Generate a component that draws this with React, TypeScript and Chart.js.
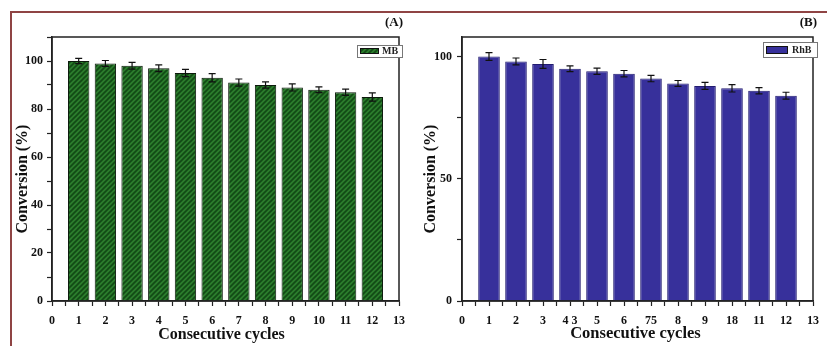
import React, { useEffect, useRef } from 'react';
import { Chart, registerables } from 'chart.js';

Chart.register(...registerables);

// ---------- data ----------
const cycles = [1, 2, 3, 4, 5, 6, 7, 8, 9, 10, 11, 12];
const mbConversion = [100, 99, 98, 97, 95, 93, 91, 90, 89, 88, 87, 85];
const mbError = [1.1, 1.2, 1.4, 1.4, 1.5, 1.7, 1.5, 1.3, 1.5, 1.2, 1.3, 1.7];
const rhbConversion = [100, 98, 97, 95, 94, 93, 91, 89, 88, 87, 86, 84];
const rhbError = [1.6, 1.4, 1.8, 1.2, 1.3, 1.3, 1.3, 1.2, 1.4, 1.5, 1.3, 1.4];
const xTickLabelsA = ['0', '1', '2', '3', '4', '5', '6', '7', '8', '9', '10', '11', '12', '13'];
const xTickLabelsB = ['0', '1', '2', '3', '4 3', '5', '6', '75', '8', '9', '18', '11', '12', '13'];
const xTitle = 'Consecutive cycles';
const yTitle = 'Conversion (%)';

const FONT = "'Liberation Serif', 'Times New Roman', serif";

type Spec = {
  left: number; top: number; width: number; height: number;
  padding: { left: number; right: number; top: number; bottom: number };
  yAxisWidth: number; xAxisHeight: number;
  yMax: number; yStep: number; yLabelEvery: number;
  xLabels: string[]; values: number[]; errors: number[];
  label: string; hatch: boolean; fill: string; stripe: string; borderColor: string;
  yTitlePad: number; yTickPad: number; xTitleText: string; yTitleText: string; xTitleSize: number;
  tag: string; tagRight: number; tagY: number;
  legend: { x: number; y: number; w: number; h: number; swX: number; swY: number; swW: number; swH: number; textX: number; textY: number };
};

const specA: Spec = {
  left: 13, top: 14, width: 400, height: 332,
  padding: { left: 0, right: 2, top: 23, bottom: 0 },
  yAxisWidth: 39, xAxisHeight: 45,
  yMax: 110, yStep: 10, yLabelEvery: 20,
  xLabels: xTickLabelsA, values: mbConversion, errors: mbError,
  label: 'MB', hatch: true, fill: '#2c7d2d', stripe: '#124a15', borderColor: '#0c1a0c',
  yTitlePad: 0, yTickPad: 4,
  xTitleText: xTitle + '  ', yTitleText: yTitle + '     ', xTitleSize: 16,
  tag: '(A)', tagRight: 390, tagY: 9,
  legend: { x: 344, y: 31, w: 45, h: 12, swX: 347, swY: 34, swW: 19, swH: 6, textX: 369, textY: 37.5 },
};

const specB: Spec = {
  left: 415, top: 14, width: 412, height: 332,
  padding: { left: 0, right: 1, top: 23, bottom: 0 },
  yAxisWidth: 47, xAxisHeight: 45,
  yMax: 108, yStep: 25, yLabelEvery: 50,
  xLabels: xTickLabelsB, values: rhbConversion, errors: rhbError,
  label: 'RhB', hatch: false, fill: '#37309b', stripe: '#37309b', borderColor: '#221c70',
  yTitlePad: 6, yTickPad: 5,
  xTitleText: xTitle + ' ', yTitleText: yTitle + '     ', xTitleSize: 16.5,
  tag: '(B)', tagRight: 402, tagY: 9,
  legend: { x: 348, y: 28, w: 54, h: 15, swX: 351, swY: 32, swW: 22, swH: 8, textX: 377, textY: 36 },
};

function makeHatch(base: string, stripe: string): CanvasPattern | string {
  const s = 5;
  const c = document.createElement('canvas');
  c.width = s; c.height = s;
  const g = c.getContext('2d');
  if (!g) return base;
  g.fillStyle = base;
  g.fillRect(0, 0, s, s);
  g.strokeStyle = stripe;
  g.lineWidth = 1.6;
  g.beginPath();
  g.moveTo(0, s); g.lineTo(s, 0);
  g.moveTo(-1, 1); g.lineTo(1, -1);
  g.moveTo(s - 1, s + 1); g.lineTo(s + 1, s - 1);
  g.stroke();
  const p = g.createPattern(c, 'repeat');
  return p || base;
}

function Panel({ spec }: { spec: Spec }) {
  const ref = useRef<HTMLCanvasElement>(null);
  useEffect(() => {
    const canvas = ref.current;
    if (!canvas) return;
    const bg = spec.hatch ? makeHatch(spec.fill, spec.stripe) : spec.fill;

    const decor = {
      id: 'panelDecor',
      afterDatasetsDraw(chart: any) {
        const ctx = chart.ctx;
        const yScale = chart.scales.y;
        const meta = chart.getDatasetMeta(0);
        ctx.save();
        ctx.strokeStyle = '#111';
        ctx.lineWidth = 1.2;
        meta.data.forEach((el: any, i: number) => {
          const v = spec.values[i];
          const e = spec.errors[i];
          const yt = yScale.getPixelForValue(v + e);
          const yb = yScale.getPixelForValue(v - e);
          ctx.beginPath();
          ctx.moveTo(el.x, yt); ctx.lineTo(el.x, yb);
          ctx.moveTo(el.x - 3.5, yt); ctx.lineTo(el.x + 3.5, yt);
          ctx.moveTo(el.x - 3.5, yb); ctx.lineTo(el.x + 3.5, yb);
          ctx.stroke();
        });
        ctx.restore();
      },
      afterDraw(chart: any) {
        const ctx = chart.ctx;
        const a = chart.chartArea;
        ctx.save();
        ctx.strokeStyle = '#222';
        ctx.lineWidth = 1.5;
        ctx.strokeRect(a.left, a.top, a.right - a.left, a.bottom - a.top);
        // legend
        const L = spec.legend;
        ctx.fillStyle = '#ffffff';
        ctx.fillRect(L.x, L.y, L.w, L.h);
        ctx.strokeStyle = '#777';
        ctx.lineWidth = 1;
        ctx.strokeRect(L.x + 0.5, L.y + 0.5, L.w, L.h);
        ctx.fillStyle = chart.data.datasets[0].backgroundColor;
        ctx.fillRect(L.swX, L.swY, L.swW, L.swH);
        ctx.strokeStyle = '#111';
        ctx.strokeRect(L.swX + 0.5, L.swY + 0.5, L.swW - 1, L.swH - 1);
        ctx.fillStyle = '#222';
        ctx.font = `bold 10px ${FONT}`;
        ctx.textBaseline = 'middle';
        ctx.textAlign = 'left';
        ctx.fillText(chart.data.datasets[0].label, L.textX, L.textY);
        // panel tag
        ctx.font = `bold 13px ${FONT}`;
        ctx.textAlign = 'right';
        ctx.fillStyle = '#111';
        ctx.fillText(spec.tag, spec.tagRight, spec.tagY);
        ctx.restore();
      },
    };

    const chart = new Chart(canvas, {
      type: 'bar',
      data: {
        datasets: [
          {
            label: spec.label,
            data: cycles.map((c, i) => ({ x: c, y: spec.values[i] })),
            backgroundColor: bg as any,
            borderColor: spec.borderColor,
            borderWidth: 1,
            borderSkipped: 'bottom',
            barPercentage: 1,
            // ticks every half unit make the ruler's minimum 0.5 units; 1.6 × 0.5 = 0.8 unit
            categoryPercentage: 1.6,
          },
        ],
      },
      options: {
        responsive: false,
        animation: false,
        layout: { padding: spec.padding },
        plugins: { legend: { display: false }, tooltip: { enabled: false } },
        scales: {
          x: {
            type: 'linear',
            min: 0,
            max: 13,
            offset: false,
            afterFit: (s: any) => { s.height = spec.xAxisHeight; },
            grid: { offset: false, drawOnChartArea: false, drawTicks: true, tickLength: 5, color: '#222', tickWidth: 1.2 },
            border: { color: '#222', width: 1.5 },
            ticks: {
              stepSize: 0.5,
              autoSkip: false,
              maxRotation: 0,
              minRotation: 0,
              includeBounds: false,
              padding: 8,
              color: '#111',
              font: { family: FONT, size: 12, weight: 'bold' },
              callback: (v: any) => (Number.isInteger(v) ? spec.xLabels[v] : ''),
            },
            title: {
              display: true,
              text: spec.xTitleText,
              color: '#111',
              font: { family: FONT, size: spec.xTitleSize, weight: 'bold' },
              padding: { top: 0, bottom: 2 },
            },
          } as any,
          y: {
            type: 'linear',
            min: 0,
            max: spec.yMax,
            afterFit: (s: any) => { s.width = spec.yAxisWidth; },
            grid: { drawOnChartArea: false, drawTicks: true, tickLength: 5, color: '#222', tickWidth: 1.2 },
            border: { color: '#222', width: 1.5 },
            ticks: {
              stepSize: spec.yStep,
              autoSkip: false,
              includeBounds: false,
              padding: spec.yTickPad,
              color: '#111',
              font: { family: FONT, size: 12, weight: 'bold' },
              callback: (v: any) => (v % spec.yLabelEvery === 0 && v <= 100 ? String(v) : ''),
            },
            title: {
              display: true,
              text: spec.yTitleText,
              color: '#111',
              font: { family: FONT, size: 16, weight: 'bold' },
              padding: { top: spec.yTitlePad, bottom: 0 },
            },
          } as any,
        },
      },
      plugins: [decor],
    });
    return () => chart.destroy();
  }, [spec]);
  return (
    <canvas
      ref={ref}
      width={spec.width}
      height={spec.height}
      style={{ position: 'absolute', left: spec.left, top: spec.top, width: spec.width, height: spec.height }}
    />
  );
}

export default function App() {
  return (
    <div
      style={{
        position: 'fixed',
        left: 0,
        top: 0,
        width: 827,
        height: 346,
        overflow: 'hidden',
        background: '#ffffff',
      }}
    >
      <div
        style={{
          position: 'absolute',
          left: 10,
          top: 11,
          width: 830,
          height: 340,
          borderTop: '2px solid #8f4444',
          borderLeft: '2px solid #8f4444',
        }}
      />
      <Panel spec={specA} />
      <Panel spec={specB} />
    </div>
  );
}
